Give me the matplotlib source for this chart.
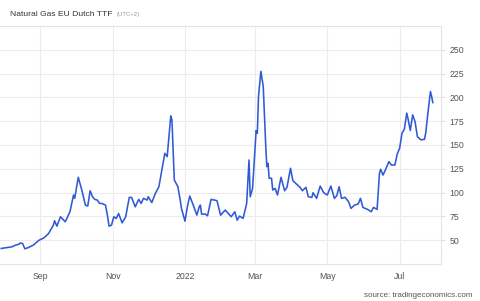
import matplotlib
matplotlib.use("Agg")
import matplotlib.pyplot as plt
import pandas as pd

plt.rcParams['font.family'] = ['Liberation Sans', 'DejaVu Sans']

# values (EUR/MWh)
dates = ["2021-07-30", "2021-08-04", "2021-08-08", "2021-08-11", "2021-08-14", "2021-08-15",
         "2021-08-17", "2021-08-19", "2021-08-22", "2021-08-26", "2021-08-31", "2021-09-04",
         "2021-09-08", "2021-09-12", "2021-09-13", "2021-09-15", "2021-09-18", "2021-09-22",
         "2021-09-26", "2021-09-29", "2021-09-30", "2021-10-03", "2021-10-06", "2021-10-09",
         "2021-10-11", "2021-10-13", "2021-10-15", "2021-10-17", "2021-10-19", "2021-10-21",
         "2021-10-23", "2021-10-26", "2021-10-28", "2021-10-29", "2021-10-31", "2021-11-02",
         "2021-11-04", "2021-11-06", "2021-11-09", "2021-11-12", "2021-11-15", "2021-11-17",
         "2021-11-20", "2021-11-23", "2021-11-25", "2021-11-27", "2021-11-30", "2021-12-01",
         "2021-12-04", "2021-12-07", "2021-12-10", "2021-12-13", "2021-12-15", "2021-12-17",
         "2021-12-18", "2021-12-20", "2021-12-21", "2021-12-23", "2021-12-26", "2021-12-28",
         "2021-12-29", "2022-01-01", "2022-01-03", "2022-01-05", "2022-01-08", "2022-01-11",
         "2022-01-13", "2022-01-14", "2022-01-15", "2022-01-18", "2022-01-20", "2022-01-23",
         "2022-01-26", "2022-01-28", "2022-01-31", "2022-02-04", "2022-02-07", "2022-02-09",
         "2022-02-12", "2022-02-14", "2022-02-16", "2022-02-19", "2022-02-22", "2022-02-24",
         "2022-02-25", "2022-02-27", "2022-03-02", "2022-03-03", "2022-03-04", "2022-03-06",
         "2022-03-08", "2022-03-10", "2022-03-11", "2022-03-12", "2022-03-13", "2022-03-15",
         "2022-03-16", "2022-03-18", "2022-03-20", "2022-03-23", "2022-03-26", "2022-03-28",
         "2022-03-31", "2022-04-02", "2022-04-05", "2022-04-08", "2022-04-10", "2022-04-13",
         "2022-04-15", "2022-04-18", "2022-04-19", "2022-04-22", "2022-04-25", "2022-04-28",
         "2022-05-01", "2022-05-04", "2022-05-07", "2022-05-09", "2022-05-11", "2022-05-13",
         "2022-05-16", "2022-05-19", "2022-05-21", "2022-05-24", "2022-05-27", "2022-05-29",
         "2022-05-31", "2022-06-04", "2022-06-07", "2022-06-09", "2022-06-12", "2022-06-14",
         "2022-06-15", "2022-06-17", "2022-06-19", "2022-06-22", "2022-06-24", "2022-06-27",
         "2022-06-29", "2022-07-01", "2022-07-03", "2022-07-05", "2022-07-07", "2022-07-08",
         "2022-07-10", "2022-07-12", "2022-07-14", "2022-07-16", "2022-07-19", "2022-07-22",
         "2022-07-23", "2022-07-25", "2022-07-27", "2022-07-28", "2022-07-29"]

prices = [41.3, 42.3, 43.0, 44.7, 45.8, 47.0,
          46.5, 40.9, 42.3, 44.7, 50.0, 52.4,
          57.0, 65.8, 70.4, 64.7, 74.6, 69.3,
          79.8, 97.4, 93.9, 116.0, 102.6, 86.8,
          85.8, 101.9, 95.6, 92.8, 92.1, 88.6,
          88.5, 86.8, 72.8, 64.7, 65.8, 74.6,
          72.8, 78.0, 68.2, 74.6, 94.9, 94.9,
          85.0, 92.8, 88.6, 93.9, 92.1, 95.6,
          89.4, 99.1, 106.1, 127.2, 141.2, 137.7,
          151.8, 180.5, 176.3, 113.2, 106.1, 92.1,
          83.4, 70.0, 85.0, 96.3, 86.8, 76.3,
          85.0, 86.8, 77.4, 77.4, 75.6, 92.8,
          92.1, 91.4, 76.3, 81.6, 77.4, 74.6,
          79.8, 71.0, 75.3, 72.8, 88.6, 134.2,
          95.6, 104.4, 165.1, 162.3, 200.9, 227.2,
          211.4, 151.8, 127.2, 130.7, 115.0, 115.0,
          102.6, 104.4, 97.4, 116.0, 101.9, 105.5,
          125.5, 112.4, 108.9, 105.5, 101.9, 105.5,
          95.6, 94.9, 99.8, 93.9, 106.8, 99.8,
          97.4, 106.8, 93.9, 96.7, 106.1, 93.9,
          95.0, 90.3, 83.4, 86.8, 87.9, 93.9,
          84.4, 82.3, 79.8, 84.4, 82.3, 120.2,
          124.4, 118.4, 123.7, 132.5, 128.9, 128.9,
          140.5, 146.5, 162.3, 166.5, 183.4, 178.1,
          165.1, 181.6, 174.5, 158.7, 155.3, 156.0,
          162.3, 185.1, 206.1, 200.9, 194.5]

yticks = [50, 75, 100, 125, 150, 175, 200, 225, 250]
xticks = ["2021-09-01", "2021-11-01", "2022-01-01", "2022-03-01", "2022-05-01", "2022-07-01"]
xlabels = ["Sep", "Nov", "2022", "Mar", "May", "Jul"]

df = pd.DataFrame({"date": pd.to_datetime(dates), "price": prices})

fig = plt.figure(figsize=(4.8, 3.01), dpi=100)
ax = fig.add_axes([0.0, 0.123, 0.919, 0.791])

ax.plot(df["date"], df["price"], color="#3059d6", lw=1.15)

ax.set_xlim(pd.Timestamp("2021-07-29"), pd.Timestamp("2022-08-05"))
ax.set_ylim(25, 275)

ax.set_yticks(yticks)
ax.yaxis.tick_right()
ax.set_xticks(pd.to_datetime(xticks))
ax.set_xticklabels(xlabels)

ax.grid(True, color="#ececec", lw=0.8)
ax.set_axisbelow(True)
ax.tick_params(axis="y", length=3, color="#dddddd", labelsize=6.3, labelcolor="#555555", pad=3)
ax.tick_params(axis="x", length=0, labelsize=6.3, labelcolor="#555555", pad=6)

ax.spines["left"].set_visible(False)
for s in ["top", "bottom", "right"]:
    ax.spines[s].set_color("#e4e4e4")
    ax.spines[s].set_linewidth(0.8)

# title, with the small timezone note right after it
title = fig.text(0.021, 0.952, "Natural Gas EU Dutch TTF", fontsize=6.1, color="#333333", va="center")
ax.annotate("(UTC+2)", xy=(1, 0.45), xycoords=title, xytext=(3, 0), textcoords="offset points",
            fontsize=4.3, color="#999999", va="center", ha="left", annotation_clip=False)
fig.text(0.985, 0.006, "source: tradingeconomics.com", fontsize=5.8, color="#555555",
         ha="right", va="bottom")

fig.savefig("out.png", dpi=100)
